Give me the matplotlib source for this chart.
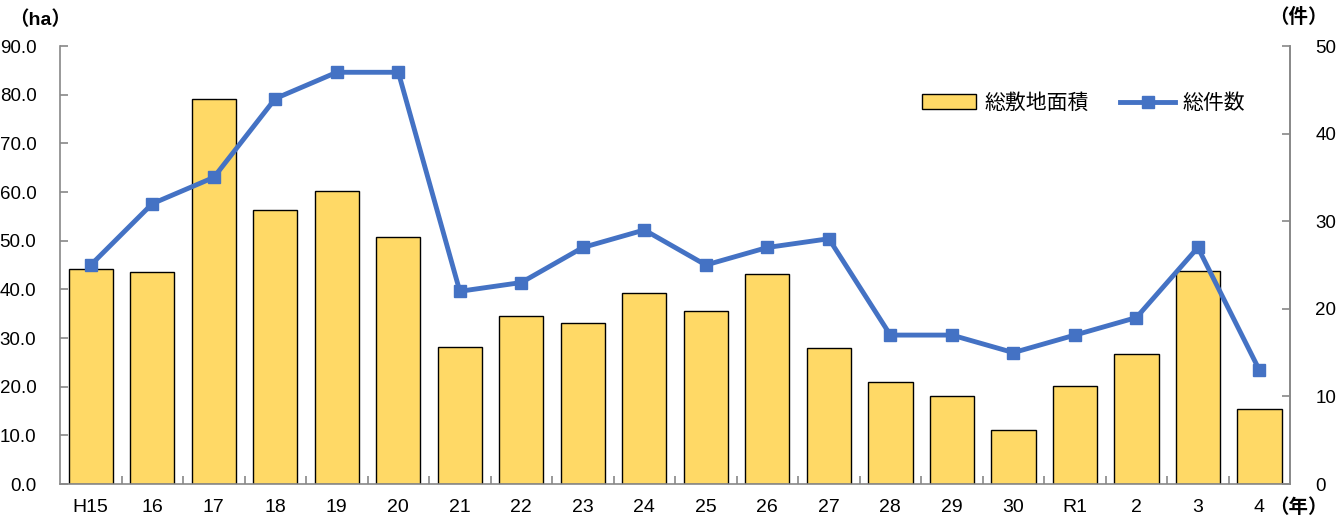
import matplotlib.pyplot as plt
import numpy as np

plt.rcParams['font.family'] = ['Liberation Sans', 'Noto Sans CJK JP']

# 年次
years = ['H15', '16', '17', '18', '19', '20', '21', '22', '23', '24',
         '25', '26', '27', '28', '29', '30', 'R1', '2', '3', '4']
# 総敷地面積 (ha)
area = [44.1, 43.6, 79.1, 56.3, 60.3, 50.8, 28.2, 34.5, 33.1, 39.3,
        35.5, 43.2, 28.0, 20.9, 18.1, 11.2, 20.1, 26.7, 43.8, 15.5]
# 総件数 (件)
count = [25, 32, 35, 44, 47, 47, 22, 23, 27, 29,
         25, 27, 28, 17, 17, 15, 17, 19, 27, 13]

bar_color = '#FFD966'
line_color = '#4472C4'
axis_color = '#888888'

fig = plt.figure(figsize=(13.4, 5.21), dpi=100)
ax = fig.add_axes([0.0448, 0.071, 0.918, 0.8407])
ax2 = ax.twinx()

x = np.arange(len(years))
bars = ax.bar(x, area, width=0.72, color=bar_color, edgecolor='black',
              linewidth=1.0, label='総敷地面積', zorder=2)
line, = ax2.plot(x, count, color=line_color, linewidth=3.5, marker='s',
                 markersize=9, label='総件数', zorder=3)

ax.set_xlim(-0.5, len(years) - 0.5)
ax.set_ylim(0, 90)
ax2.set_ylim(0, 50)
ax.set_yticks(np.arange(0, 91, 10))
ax.set_yticklabels([f'{v:.1f}' for v in np.arange(0, 91, 10)])
ax2.set_yticks(np.arange(0, 51, 10))

ax.set_xticks(x)
ax.set_xticklabels(years)
ax.set_xticks(np.arange(0.5, len(years) - 1, 1), minor=True)

for a in (ax, ax2):
    a.spines['top'].set_visible(False)
    for s in ('left', 'right', 'bottom'):
        a.spines[s].set_color(axis_color)
        a.spines[s].set_linewidth(1.2)
    a.tick_params(which='both', direction='in', color=axis_color, width=1.2)

ax.tick_params(axis='x', which='major', length=0, pad=11, labelsize=14)
ax.tick_params(axis='x', which='minor', length=6)
ax.tick_params(axis='y', length=6, pad=17, labelsize=13.5)
ax2.tick_params(axis='y', length=6, pad=18, labelsize=13.5)
ax2.spines['left'].set_visible(False)
ax2.spines['bottom'].set_visible(False)

ax.set_zorder(1)
ax.patch.set_visible(False)
ax2.set_zorder(2)

# 単位ラベル
fig.text(0.007, 0.962, '（ha）', fontsize=14, fontweight='bold', ha='left', va='center')
fig.text(0.991, 0.966, '（件）', fontsize=14, fontweight='bold', ha='right', va='center')
fig.text(0.991, 0.025, '（年）', fontsize=14, fontweight='bold', ha='right', va='center')

ax2.legend([bars, line], ['総敷地面積', '総件数'], loc='upper right',
           bbox_to_anchor=(0.979, 0.935), ncol=2, frameon=False, fontsize=15,
           handlelength=2.6, columnspacing=1.5, handletextpad=0.4)

fig.savefig('out.png', dpi=100)
